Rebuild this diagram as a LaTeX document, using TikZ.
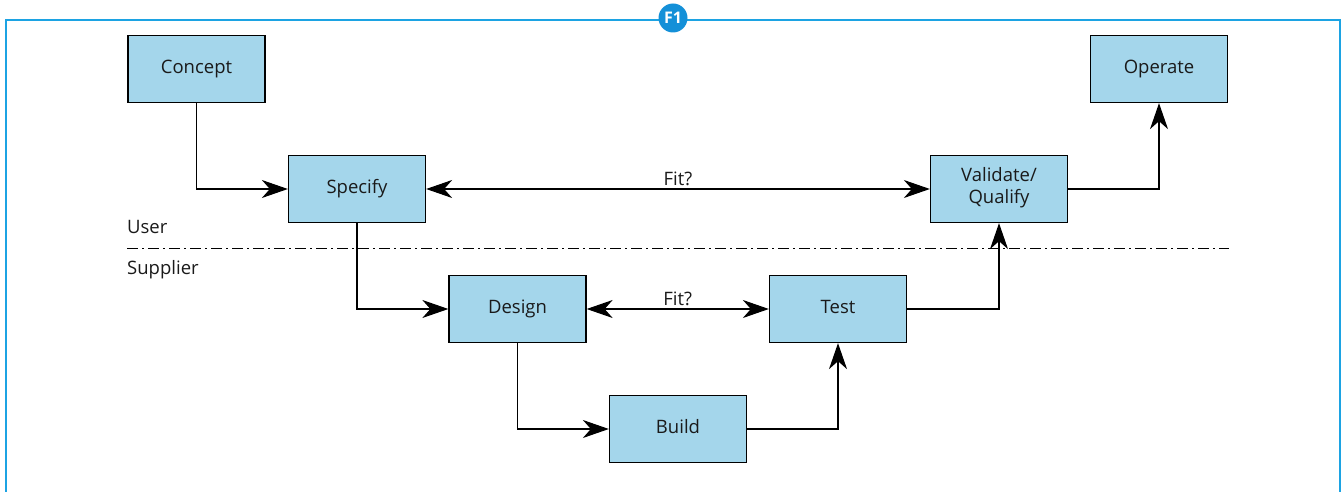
\documentclass[tikz,border=0pt]{standalone}
\usepackage{fontspec}
\setmainfont{Open Sans}
\usepackage{xcolor}
\usepackage{tikz}
\usetikzlibrary{positioning,arrows.meta,calc}
\definecolor{BoxFill}{HTML}{A4D6EB}
\definecolor{FrameBlue}{HTML}{1CA3E3}
\definecolor{BadgeBlue}{HTML}{1490D8}
\definecolor{TextDark}{HTML}{1A1A1A}

\begin{document}
\begin{tikzpicture}[x=1pt,y=-1pt,
                    every node/.style={font=\fontsize{18.5}{22}\selectfont,text=TextDark},
                    stage/.style={draw=black,fill=BoxFill,line width=1.3pt,
                      minimum width=137pt,minimum height=67pt,inner sep=2pt,align=center,
                      execute at begin node={\strut}},
                    ar/.style={-{Stealth[length=26pt,width=18pt,inset=8pt]},line width=1.1pt},
                    biar/.style={{Stealth[length=26pt,width=18pt,inset=8pt]}-{Stealth[length=26pt,width=18pt,inset=8pt]},line width=1.1pt}]
  \useasboundingbox (0,0) rectangle (1343,492);
  % frame and badge
  \draw[FrameBlue,line width=1.8pt] (6,493) -- (6,20) -- (1340,20) -- (1340,493);
  \node[circle,fill=BadgeBlue,minimum size=29pt,inner sep=0pt,
        font=\fontsize{16}{18}\selectfont\bfseries,text=white] (badge) at (673,18) {F1};

  % stages
  \node[stage] (concept)  at (196.5,69)  {Concept};
  \node[stage] (operate)  at (1159,69)   {Operate};
  \node[stage] (specify)  at (357,189)   {Specify};
  \node[stage] (validate) at (999,189)   {Validate/\\Qualify};
  \node[stage] (design)   at (517.5,309) {Design};
  \node[stage] (test)     at (838,309)   {Test};
  \node[stage] (build)    at (678,429)   {Build};

  % user / supplier split
  \draw[line width=1pt,dash pattern=on 11pt off 4pt on 2pt off 4pt] (127,248) -- (1229,248);
  \node[anchor=west,inner sep=0pt] (user)     at (127,227) {User};
  \node[anchor=west,inner sep=0pt] (supplier) at (127,270) {Supplier};

  % flow
  \draw[ar] (concept.south) |- (specify.west);
  \draw[ar] (specify.south) |- (design.west);
  \draw[ar] (design.south) |- (build.west);
  \draw[ar] (build.east) -| (test.south);
  \draw[ar] (test.east) -| (validate.south);
  \draw[ar] (validate.east) -| (operate.south);
  \draw[biar] (specify.east) -- node[above,inner sep=3pt] (fituser) {Fit?} (validate.west);
  \draw[biar] (design.east) -- node[above,inner sep=3pt] (fitsupp) {Fit?} (test.west);
\end{tikzpicture}
\end{document}
